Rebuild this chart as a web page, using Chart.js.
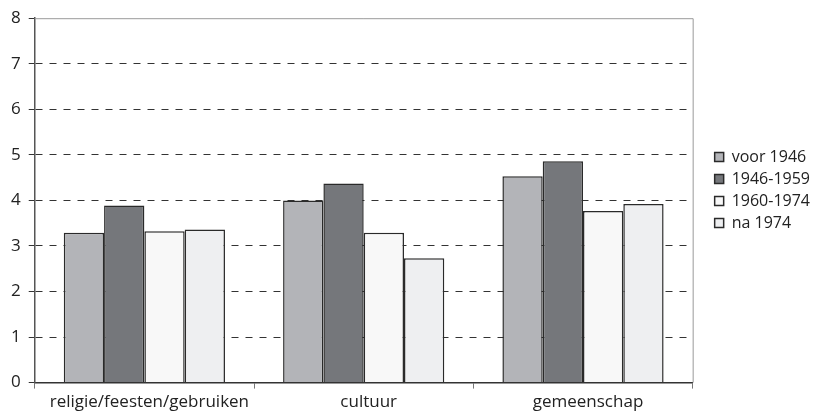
<!DOCTYPE html>
<html>
<head>
<meta charset="utf-8">
<script src="https://cdn.jsdelivr.net/npm/chart.js@4/dist/chart.umd.min.js"></script>
<style>
  html, body { margin: 0; padding: 0; background: #fff; overflow: hidden; }
  canvas { display: block; }
</style>
</head>
<body>
<canvas id="barChart" width="820" height="415"></canvas>
<script>
const categories = ['religie/feesten/gebruiken', 'cultuur', 'gemeenschap'];
const seriesLabels = ['voor 1946', '1946-1959', '1960-1974', 'na 1974'];
const voor1946 = [3.29, 4.00, 4.53];
const p1946_1959 = [3.89, 4.37, 4.86];
const p1960_1974 = [3.32, 3.29, 3.77];
const na1974 = [3.36, 2.73, 3.92];
const yTicks = [0, 1, 2, 3, 4, 5, 6, 7, 8];

const fills = ['#b3b4b8', '#75777b', '#f8f8f8', '#eeeff1'];
const seriesData = [voor1946, p1946_1959, p1960_1974, na1974];

// grey frame on the right + top of the plot area
const frame = {
    id: 'frame',
    afterDraw(chart) {
        const { ctx, chartArea: a } = chart;
        ctx.save();
        ctx.strokeStyle = '#9a9a9a';
        ctx.lineWidth = 1;
        ctx.beginPath();
        ctx.moveTo(a.left, a.top + 0.5);
        ctx.lineTo(a.right + 0.5, a.top + 0.5);
        ctx.lineTo(a.right + 0.5, a.bottom);
        ctx.stroke();
        ctx.restore();
    }
};

// leave a gap between the plot and the legend, and lift the legend a bit
const LEGEND_GAP = 16;
const LEGEND_LIFT = 26;
const legendGap = {
    id: 'legendGap',
    beforeInit(chart) {
        const fit = chart.legend.fit;
        chart.legend.fit = function () {
            fit.call(this);
            this.width += LEGEND_GAP;
        };
    },
    afterUpdate(chart) {
        const lg = chart.legend;
        lg.left += LEGEND_GAP;
        lg.top -= LEGEND_LIFT;
        lg.bottom -= LEGEND_LIFT;
        lg.adjustHitBoxes();
    }
};

Chart.defaults.font.family = "'Open Sans', Lato, sans-serif";
Chart.defaults.color = '#222';

new Chart(document.getElementById('barChart'), {
    type: 'bar',
    data: {
        labels: categories,
        datasets: seriesLabels.map((s, i) => ({
            label: s,
            data: seriesData[i],
            backgroundColor: fills[i],
            borderColor: '#2a2a2a',
            borderWidth: 1.5,
            categoryPercentage: 0.735,
            barPercentage: 1
        }))
    },
    options: {
        responsive: false,
        animation: false,
        layout: { padding: { left: 3, top: 17, right: 0, bottom: 0 } },
        scales: {
            x: {
                grid: { drawOnChartArea: false, drawTicks: true, tickLength: 6, color: '#777', offset: true },
                border: { color: '#333', width: 1.5 },
                ticks: { font: { size: 17 }, padding: 3, labelOffset: 5, color: '#222' }
            },
            y: {
                min: 0,
                max: 8,
                afterBuildTicks: axis => { axis.ticks = yTicks.map(v => ({ value: v })); },
                grid: {
                    color: c => c.tick && c.tick.value === 8 ? 'rgba(0,0,0,0)' : '#333',
                    tickLength: 6,
                    tickColor: '#333',
                    tickBorderDash: []
                },
                border: { color: '#555', width: 1.5, dash: [7, 7] },
                ticks: { font: { size: 17 }, padding: 8, color: '#222' }
            }
        },
        plugins: {
            legend: {
                position: 'right',
                align: 'center',
                labels: {
                    boxWidth: 9,
                    boxHeight: 9,
                    padding: 6,
                    font: { size: 16 },
                    color: '#222'
                }
            },
            tooltip: { enabled: false }
        }
    },
    plugins: [frame, legendGap]
});
</script>
</body>
</html>
